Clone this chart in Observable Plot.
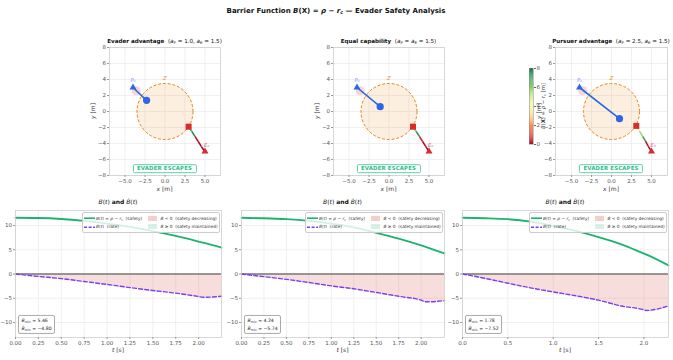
<!DOCTYPE html>
<html><head><meta charset="utf-8">
<script src="https://cdn.jsdelivr.net/npm/d3@7"></script>
<script src="https://cdn.jsdelivr.net/npm/@observablehq/plot@0.6"></script>
<style>
body{margin:0;background:#fff;}
#root{position:relative;width:673px;height:360px;overflow:hidden;font-family:"DejaVu Sans",sans-serif;color:#222;background:#fff;}
.abs{position:absolute;white-space:nowrap;line-height:1.2;}
sub{font-size:70%;vertical-align:-0.3em;line-height:0;}
</style></head><body><div id="root"></div>
<script>
// ---------------- data ----------------
const scenarioTitles = ["Evader advantage", "Equal capability", "Pursuer advantage"];
const aP = [1.0, 1.5, 2.5];
const aE = 1.5;
const pursuerStart = [-4, 3];
const evaderStart = [5, -5];
const pursuerNow = [[-2.3, 1.4], [-1.1, 0.6], [1.0, -0.9]];
const evaderNow = [[2.95, -1.9], [3.0, -1.9], [3.1, -1.8]];
const haloCenter = [-3.6, 2.6];
const zoneCenter = [0, 0];
const zoneRadius = 3.5;
const badgeAt = [0, -7.2];
const evaderPaths = [
  [[2.95, -1.9], [3.35, -2.5], [3.75, -3.1], [4.15, -3.75], [4.55, -4.4], [5, -5]],
  [[3.0, -1.9], [3.4, -2.5], [3.8, -3.1], [4.2, -3.75], [4.6, -4.4], [5, -5]],
  [[3.1, -1.8], [3.5, -2.45], [3.9, -3.1], [4.25, -3.7], [4.6, -4.35], [5, -5]]
];
const evaderPathB = [
  [6.6, 7.4, 0.3, 0.1, 0.0],
  [6.2, 7.2, 0.5, 0.2, 0.0],
  [4.2, 5.6, 7.0, 0.3, 0.1]
];
const xTicksTop = [-5, -2.5, 0, 2.5, 5];
const yTicksTop = [-8, -6, -4, -2, 0, 2, 4, 6, 8];
const cbTicks = [0, 2, 4, 6, 8];

const times = [
  [0, 0.25, 0.5, 0.75, 1.0, 1.25, 1.5, 1.75, 2.0, 2.05, 2.25],
  [0, 0.25, 0.5, 0.75, 1.0, 1.25, 1.5, 1.75, 2.0, 2.05, 2.26],
  [0, 0.25, 0.5, 0.75, 1.0, 1.25, 1.5, 1.75, 2.0, 2.02, 2.27]
];
const barrier = [
  [11.6, 11.55, 11.35, 10.95, 10.4, 9.7, 8.85, 7.85, 6.7, 6.45, 5.46],
  [11.6, 11.5, 11.3, 10.95, 10.4, 9.6, 8.5, 7.3, 5.9, 5.6, 4.24],
  [11.6, 11.5, 11.3, 10.8, 9.95, 8.9, 7.6, 6.1, 4.2, 4.05, 1.78]
];
const barrierRate = [
  [0, -0.5, -0.95, -1.55, -2.15, -2.8, -3.4, -3.95, -4.65, -4.80, -4.6],
  [0, -0.55, -1.1, -1.75, -2.45, -3.05, -3.8, -4.6, -5.4, -5.74, -5.5],
  [0, -0.9, -1.9, -2.85, -3.7, -4.5, -5.4, -6.6, -7.4, -7.52, -6.6]
];
const Bmin = [5.46, 4.24, 1.78];
const dBmin = [-4.80, -5.74, -7.52];
const tTicks = [[0, 0.25, 0.5, 0.75, 1, 1.25, 1.5, 1.75, 2], [0, 0.25, 0.5, 0.75, 1, 1.25, 1.5, 1.75, 2], [0, 0.5, 1, 1.5, 2]];
const tFormats = [".2f", ".2f", ".1f"];
const yTicksBottom = [-10, -5, 0, 5, 10];

// ---------------- layout ----------------
const root = document.getElementById("root");
const FONT = '"DejaVu Sans", sans-serif';
const topFrames = [{x:109,y:47,w:111,h:128},{x:333,y:47,w:111,h:128},{x:555,y:47,w:112,h:128}];
const botFrames = [{x:15,y:210,w:206,h:127},{x:241,y:210,w:203,h:127},{x:462,y:210,w:206,h:127}];
const C = {blue:"#2d66e6", red:"#d62c2c", green:"#1db36e", purple:"#7b3fe8", grid:"#e9e9e9", frame:"#cfcfcf", tick:"#555"};

function addHTML(html, x, y, opts = {}) {
  const d = document.createElement("div");
  d.className = "abs";
  d.innerHTML = html;
  d.style.left = x + "px"; d.style.top = y + "px";
  const ax = opts.ax ?? 0.5, ay = opts.ay ?? 0.5;
  let tf = `translate(${-ax*100}%, ${-ay*100}%)`;
  if (opts.rotate) tf += ` rotate(${opts.rotate}deg)`;
  d.style.transform = tf;
  Object.assign(d.style, opts.style || {});
  root.appendChild(d);
  return d;
}
function place(svg, left, top) {
  svg.style.position = "absolute";
  svg.style.left = left + "px"; svg.style.top = top + "px";
  svg.style.maxWidth = "none";
  root.appendChild(svg);
}
const minus = s => s.replace("-", "−");

// title
addHTML(`<b>Barrier Function <i>B</i>(<b>X</b>) = <i>ρ</i> − <i>r</i><sub>c</sub> — Evader Safety Analysis</b>`, 336, 11, {style:{fontSize:"7px", color:"#111"}});

// ---------------- top panels ----------------
topFrames.forEach((f, i) => {
  const mL = 24, mR = 4, mT = 4, mB = 14;
  const k = f.h / 16;
  const half = (f.w / 2) / k;
  const path = evaderPaths[i];
  const segs = path.slice(0, -1).map((p, j) => ({x1:p[0], y1:p[1], x2:path[j+1][0], y2:path[j+1][1], b:evaderPathB[i][j]}));
  const P = d => d[0], Q = d => d[1];
  const plot = Plot.plot({
    width: f.w + mL + mR, height: f.h + mT + mB,
    marginLeft: mL, marginRight: mR, marginTop: mT, marginBottom: mB,
    style: {fontFamily: FONT, fontSize: "5.5px", background: "none", overflow: "visible", color: C.tick},
    x: {domain: [-half, half]},
    y: {domain: [-8, 8]},
    color: {type: "linear", scheme: "RdYlGn", domain: [0, 8], clamp: true},
    marks: [
      Plot.gridX({ticks: xTicksTop, stroke: C.grid, strokeOpacity: 1, strokeWidth: 0.7}),
      Plot.gridY({ticks: yTicksTop, stroke: C.grid, strokeOpacity: 1, strokeWidth: 0.7}),
      Plot.dot([zoneCenter], {x: P, y: Q, r: zoneRadius * k, fill: "#f2a245", fillOpacity: 0.17, stroke: "#e2851c", strokeWidth: 1, strokeDasharray: "3,1.8"}),
      Plot.text([zoneCenter], {x: P, y: d => d[1] + zoneRadius + 0.7, text: () => "Z", fill: "#e89a3c", fontStyle: "italic", fontSize: 5.5}),
      Plot.dot([haloCenter], {x: P, y: Q, r: 4.5, fill: "#e57373", fillOpacity: 0.3}),
      Plot.line([pursuerStart, pursuerNow[i]], {x: P, y: Q, stroke: C.blue, strokeWidth: 1.6}),
      Plot.link(segs, {x1: "x1", y1: "y1", x2: "x2", y2: "y2", stroke: "b", strokeWidth: 1.5}),
      Plot.dot([pursuerStart], {x: P, y: Q, symbol: "triangle", r: 2.6, fill: C.blue}),
      Plot.dot([evaderStart], {x: P, y: Q, symbol: "triangle", r: 2.6, fill: C.red}),
      Plot.text([pursuerStart], {x: P, y: d => d[1] + 0.9, text: () => "P₀", fill: "#7197f0", fontStyle: "italic", fontSize: 5}),
      Plot.text([evaderStart], {x: d => d[0] + 0.2, y: d => d[1] + 0.8, text: () => "E₀", fill: "#e0607e", fontStyle: "italic", fontSize: 5}),
      Plot.dot([pursuerNow[i]], {x: P, y: Q, r: 3.6, fill: C.blue}),
      Plot.dot([evaderNow[i]], {x: P, y: Q, symbol: "square", r: 3.4, fill: C.red}),
      Plot.frame({stroke: C.frame, strokeWidth: 0.8}),
      Plot.axisX({ticks: xTicksTop, tickFormat: d => minus(d3.format(".1f")(d)), tickSize: 2, tickPadding: 1.5, label: null, stroke: "#999"}),
      Plot.axisY({ticks: yTicksTop, tickFormat: d => minus(String(d)), tickSize: 2, tickPadding: 1.5, label: null, stroke: "#999"})
    ]
  });
  const left = f.x - mL, top = f.y - mT;
  place(plot, left, top);
  const sx = plot.scale("x"), sy = plot.scale("y");
  const params = i === 1
    ? `(<i>a</i><sub>P</sub> = <i>a</i><sub>E</sub> = ${aE.toFixed(1)})`
    : `(<i>a</i><sub>P</sub> = ${aP[i].toFixed(1)}, <i>a</i><sub>E</sub> = ${aE.toFixed(1)})`;
  addHTML(`<b>${scenarioTitles[i]}</b>&nbsp;&nbsp;${params}`, f.x + f.w / 2, 41, {style:{fontSize:"5.6px", color:"#111"}});
  addHTML(`<i>x</i> [m]`, f.x + f.w / 2, 188.5, {style:{fontSize:"6px", color:"#333"}});
  addHTML(`<i>y</i> [m]`, f.x - 16, f.y + f.h / 2, {rotate: -90, style:{fontSize:"6px", color:"#333"}});
  addHTML(`EVADER ESCAPES`, left + sx.apply(badgeAt[0]), top + sy.apply(badgeAt[1]), {style:{
    fontSize:"5.4px", fontWeight:"bold", color:"#2ebd88", border:"0.8px solid #5fd3a9", borderRadius:"1.5px",
    padding:"0.6px 3.5px", background:"#fff", letterSpacing:"0.15px"}});
});

// ---------------- colorbar ----------------
{
  const f = {x:529, y:68, w:4, h:76};
  const mL = 0, mR = 12, mT = 3, mB = 3;
  const ramp = d3.range(0, 8, 0.1).map(v => ({y1: v, y2: v + 0.1}));
  const cb = Plot.plot({
    width: f.w + mL + mR, height: f.h + mT + mB,
    marginLeft: mL, marginRight: mR, marginTop: mT, marginBottom: mB,
    style: {fontFamily: FONT, fontSize: "5.5px", background: "none", overflow: "visible", color: C.tick},
    y: {domain: [0, 8]},
    color: {type: "linear", scheme: "RdYlGn", domain: [0, 8]},
    marks: [
      Plot.rect(ramp, {y1: "y1", y2: "y2", fill: d => (d.y1 + d.y2) / 2}),
      Plot.frame({stroke: "#888", strokeWidth: 0.5}),
      Plot.axisY({anchor: "right", ticks: cbTicks, tickSize: 2, tickPadding: 1, label: null, stroke: "#666"})
    ]
  });
  place(cb, f.x - mL, f.y - mT);
  addHTML(`<i>B</i>(<b>X</b>) = <i>ρ</i> − <i>r</i><sub>c</sub> [m]`, 543, 106, {rotate: -90, style:{fontSize:"5.3px", color:"#333"}});
}

// ---------------- bottom panels ----------------
botFrames.forEach((f, i) => {
  const mL = 16, mR = 4, mT = 4, mB = 12;
  const rows = times[i].map((t, j) => ({t, B: barrier[i][j], dB: barrierRate[i][j]}));
  const tmax = times[i][times[i].length - 1];
  const plot = Plot.plot({
    width: f.w + mL + mR, height: f.h + mT + mB,
    marginLeft: mL, marginRight: mR, marginTop: mT, marginBottom: mB,
    style: {fontFamily: FONT, fontSize: "5.5px", background: "none", overflow: "visible", color: C.tick},
    x: {domain: [0, tmax]},
    y: {domain: [-13.1, 13.1]},
    marks: [
      Plot.gridX({ticks: tTicks[i], stroke: C.grid, strokeOpacity: 1, strokeWidth: 0.7}),
      Plot.gridY({ticks: yTicksBottom, stroke: C.grid, strokeOpacity: 1, strokeWidth: 0.7}),
      Plot.areaY(rows, {x: "t", y: "dB", fill: "#d9534f", fillOpacity: 0.2, curve: "monotone-x"}),
      Plot.ruleY([0], {stroke: "#7a7a7a", strokeWidth: 1.3}),
      Plot.line(rows, {x: "t", y: "B", stroke: C.green, strokeWidth: 1.8, curve: "monotone-x"}),
      Plot.line(rows, {x: "t", y: "dB", stroke: C.purple, strokeWidth: 1.4, strokeDasharray: "4,2.2", curve: "monotone-x"}),
      Plot.frame({stroke: C.frame, strokeWidth: 0.8}),
      Plot.axisX({ticks: tTicks[i], tickFormat: d => d3.format(tFormats[i])(d), tickSize: 2, tickPadding: 1.5, label: null, stroke: "#999"}),
      Plot.axisY({ticks: yTicksBottom, tickFormat: d => minus(String(d)), tickSize: 2, tickPadding: 1.5, label: null, stroke: "#999"})
    ]
  });
  place(plot, f.x - mL, f.y - mT);
  addHTML(`<i>B</i>(<i>t</i>) <b>and</b> <i>Ḃ</i>(<i>t</i>)`, f.x + f.w / 2, 201.5, {style:{fontSize:"6px", color:"#111"}});
  addHTML(`<i>t</i> [s]`, f.x + f.w / 2, 350, {style:{fontSize:"6px", color:"#333"}});

  addHTML(`
    <div style="position:relative;width:136px;height:19.5px;font-size:4.3px;color:#333;">
      <svg style="position:absolute;left:1.5px;top:4.8px" width="11" height="2.4"><line x1="0" y1="1.2" x2="11" y2="1.2" stroke="${C.green}" stroke-width="1.6"/></svg>
      <span style="position:absolute;left:13.5px;top:3.3px"><i>B</i>(<i>t</i>) = <i>ρ</i> − <i>r</i><sub>c</sub>&nbsp; (safety)</span>
      <svg style="position:absolute;left:1.5px;top:13.1px" width="11" height="2.4"><line x1="0" y1="1.2" x2="11" y2="1.2" stroke="${C.purple}" stroke-width="1.4" stroke-dasharray="3,1.6"/></svg>
      <span style="position:absolute;left:13.5px;top:11.6px"><i>Ḃ</i>(<i>t</i>)&nbsp; (rate)</span>
      <div style="position:absolute;left:65px;top:3.6px;width:9px;height:4.6px;background:rgba(217,83,79,0.28);"></div>
      <span style="position:absolute;left:78px;top:3.3px"><i>Ḃ</i> &lt; 0&nbsp; (safety decreasing)</span>
      <div style="position:absolute;left:65px;top:11.9px;width:9px;height:4.6px;background:rgba(29,179,110,0.18);"></div>
      <span style="position:absolute;left:78px;top:11.6px"><i>Ḃ</i> ≥ 0&nbsp; (safety maintained)</span>
    </div>`, f.x + f.w - 1.5, f.y + 1.5, {ax: 1, ay: 0, style:{
      background:"rgba(255,255,255,0.8)", border:"0.7px solid #ccc", borderRadius:"2px"}});

  addHTML(`<i>B</i><sub>min</sub> = ${Bmin[i].toFixed(2)}<br><i>Ḃ</i><sub>min</sub> = ${minus(dBmin[i].toFixed(2))}`,
    f.x + 3, f.y + f.h - 3, {ax: 0, ay: 1, style:{
      fontSize:"4.6px", lineHeight:"1.75", color:"#222", background:"rgba(255,255,255,0.9)",
      border:"0.7px solid #aaa", borderRadius:"2px", padding:"0.5px 2.5px"}});
});
</script></body></html>
